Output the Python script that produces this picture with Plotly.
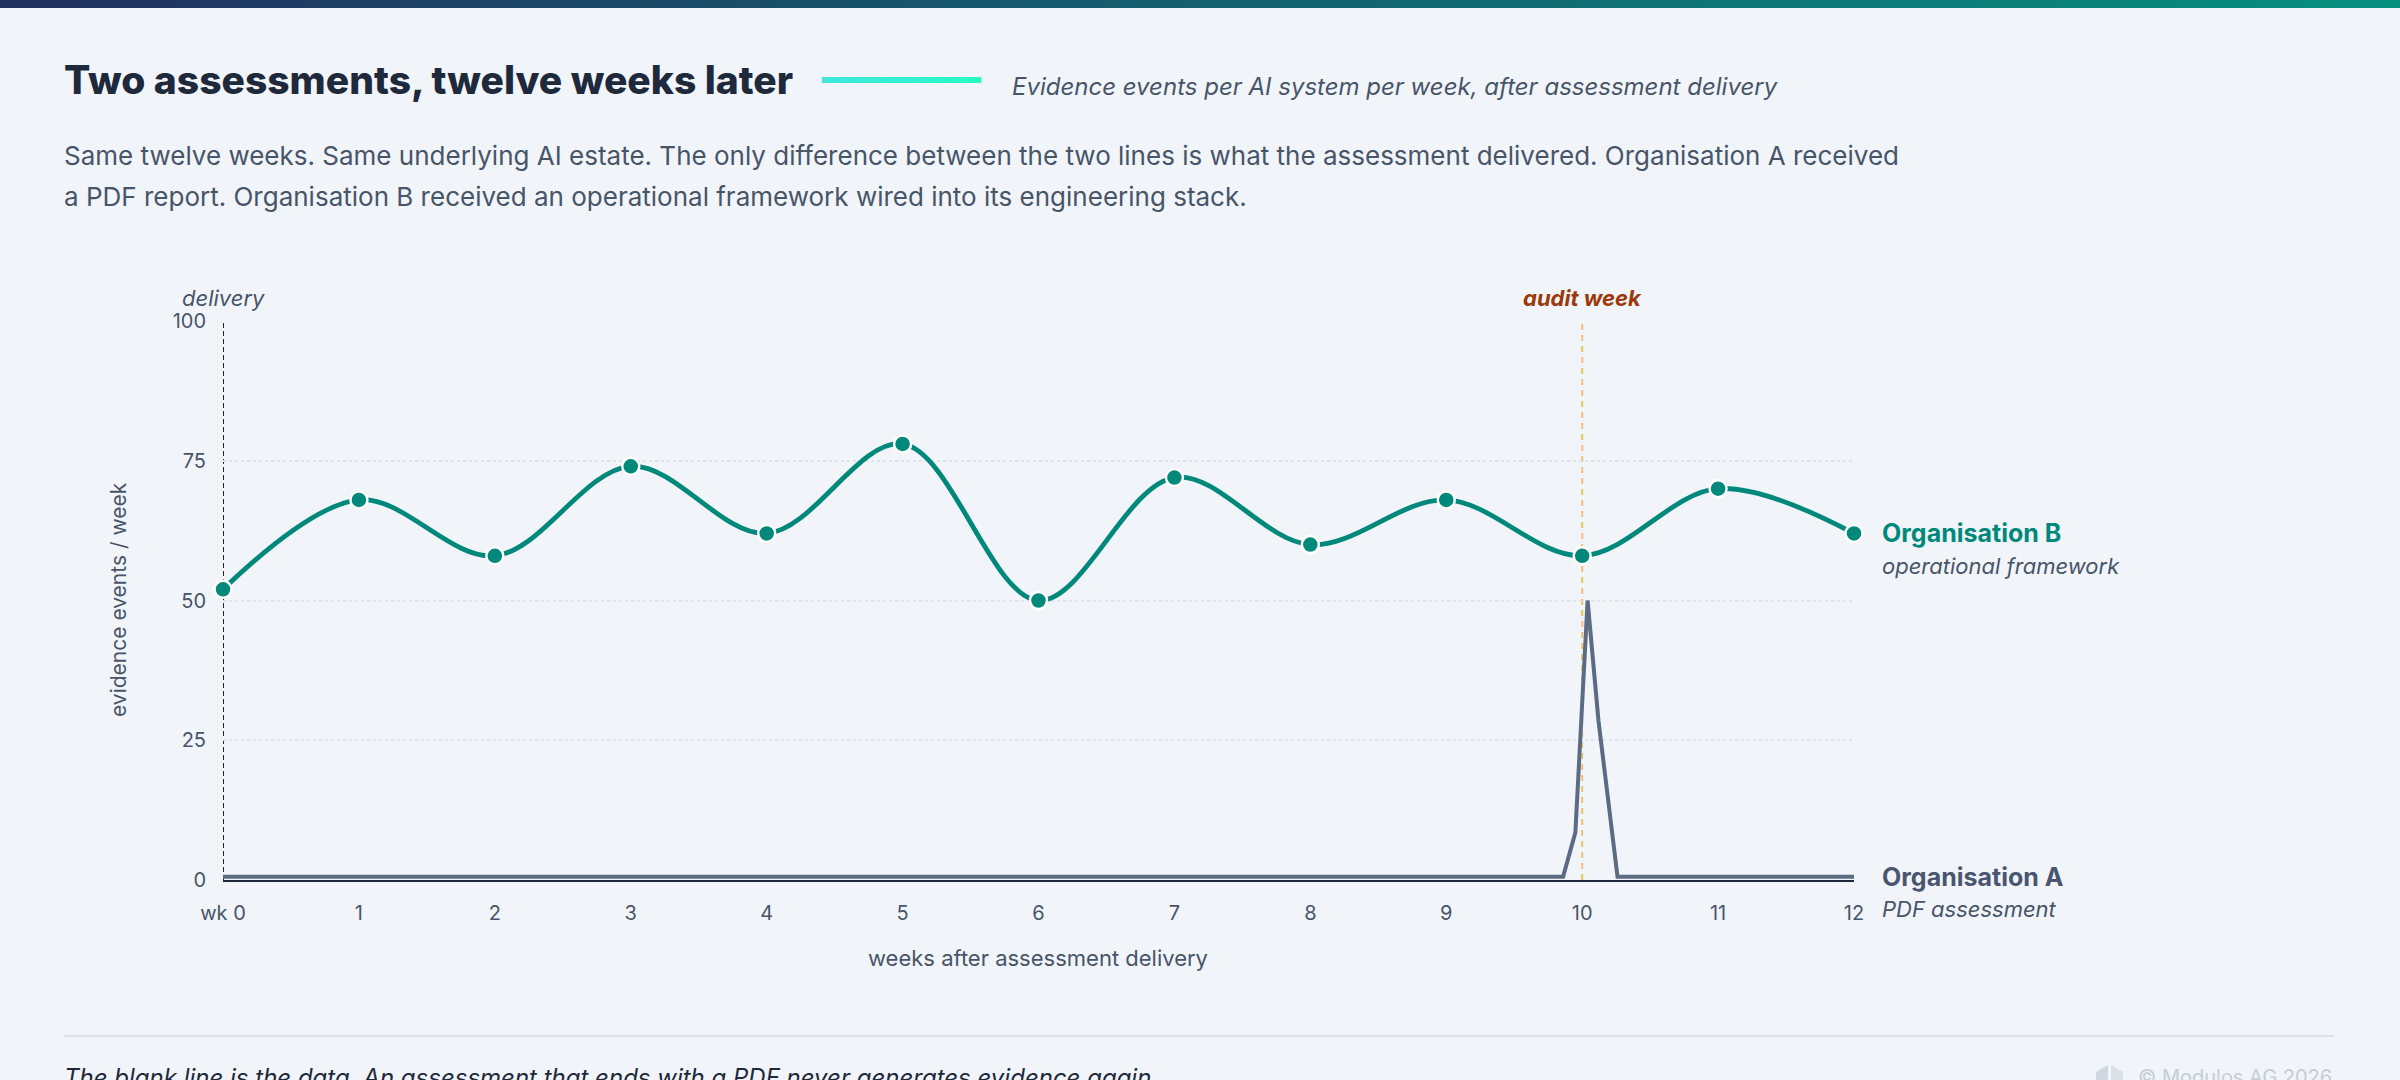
import plotly.graph_objects as go

# ---------------- data ----------------
weeks = list(range(13))
week_labels = ["wk 0", "1", "2", "3", "4", "5", "6", "7", "8", "9", "10", "11", "12"]
org_b_values = [52, 68, 58, 74, 62, 78, 50, 72, 60, 68, 58, 70, 62]
org_a_weeks = [0, 9.86, 9.95, 10.04, 10.12, 10.26, 12]
org_a_values = [0.6, 0.6, 8.5, 50, 28.5, 0.6, 0.6]
y_ticks = [0, 25, 50, 75, 100]
delivery_week = 0
audit_week = 10

# ---------------- layout geometry ----------------
W, H = 2400, 1080
ML, MR, MT, MB = 223, 546, 321, 200
PW, PH = W - ML - MR, H - MT - MB
FONT = "Inter"
BG = "#f1f4f9"
TEAL = "#00897b"
SLATE = "#5b6b84"
DARK = "#1e293b"
MUTED = "#475569"


def xp(px):
    return (px - ML) / PW


def yp(py):
    return (H - MB - py) / PH


def hex2rgb(h):
    h = h.lstrip("#")
    return tuple(int(h[i:i + 2], 16) for i in (0, 2, 4))


def lerp(c1, c2, t):
    a, b = hex2rgb(c1), hex2rgb(c2)
    return "rgb(%d,%d,%d)" % tuple(round(a[i] + (b[i] - a[i]) * t) for i in range(3))


fig = go.Figure()

fig.add_trace(go.Scatter(
    x=org_a_weeks, y=org_a_values, mode="lines",
    line=dict(color=SLATE, width=4, shape="linear"),
    cliponaxis=False, showlegend=False, name="Organisation A",
))
fig.add_trace(go.Scatter(
    x=weeks, y=org_b_values, mode="lines+markers",
    line=dict(color=TEAL, width=4.8, shape="spline", smoothing=1),
    marker=dict(size=17, color=TEAL, line=dict(color="white", width=2.5)),
    cliponaxis=False, showlegend=False, name="Organisation B",
))

shapes = []
# top gradient bar
N = 120
for i in range(N):
    x0 = W * i / N
    x1 = W * (i + 1) / N + 1
    shapes.append(dict(type="rect", xref="paper", yref="paper",
                       x0=xp(x0), x1=xp(x1), y0=yp(0), y1=yp(8),
                       fillcolor=lerp("#22305f", "#078f7e", i / (N - 1)),
                       line=dict(width=0), layer="above"))
# legend swatch next to title (gradient)
M = 30
sx0, sx1 = 822, 981
for i in range(M):
    a = sx0 + (sx1 - sx0) * i / M
    b = sx0 + (sx1 - sx0) * (i + 1) / M + 0.5
    shapes.append(dict(type="rect", xref="paper", yref="paper",
                       x0=xp(a), x1=xp(b), y0=yp(77), y1=yp(83),
                       fillcolor=lerp("#3de6da", "#25fbc6", i / (M - 1)),
                       line=dict(width=0)))
# delivery line
shapes.append(dict(type="line", xref="x", yref="y", x0=delivery_week, x1=delivery_week,
                   y0=0, y1=100, line=dict(color="#1e293b", width=2, dash="5px,3px"),
                   layer="below"))
# audit week line
shapes.append(dict(type="line", xref="x", yref="y", x0=audit_week, x1=audit_week,
                   y0=0, y1=100, line=dict(color="#f0c06c", width=2, dash="6px,5px"),
                   layer="below"))
# footer separator
shapes.append(dict(type="line", xref="paper", yref="paper",
                   x0=xp(64), x1=xp(2334), y0=yp(1036), y1=yp(1036),
                   line=dict(color="#dde3eb", width=2)))
# small logo glyph
shapes.append(dict(type="path", xref="paper", yref="paper",
                   path="M %f,%f L %f,%f L %f,%f L %f,%f Z" % (
                       xp(2096), yp(1080), xp(2096), yp(1072), xp(2108), yp(1065), xp(2108), yp(1080)),
                   fillcolor="#cfd7e1", line=dict(width=0)))
shapes.append(dict(type="path", xref="paper", yref="paper",
                   path="M %f,%f L %f,%f L %f,%f L %f,%f Z" % (
                       xp(2111), yp(1080), xp(2111), yp(1065), xp(2123), yp(1072), xp(2123), yp(1080)),
                   fillcolor="#dbe1e9", line=dict(width=0)))

ann = []


def text(px, py, s, size, color, xanchor="left", yanchor="middle", weight="normal",
         style="normal", angle=0):
    ann.append(dict(xref="paper", yref="paper", x=xp(px), y=yp(py), text=s,
                    showarrow=False, xanchor=xanchor, yanchor=yanchor, textangle=angle,
                    font=dict(family=FONT, size=size, color=color, weight=weight, style=style)))


text(62, 80, "Two assessments, twelve weeks later", 39, DARK, weight=800)
text(1010, 86, "Evidence events per AI system per week, after assessment delivery", 24, MUTED,
     style="italic")
text(62, 156, "Same twelve weeks. Same underlying AI estate. The only difference between the two lines "
              "is what the assessment delivered. Organisation A received", 26, MUTED)
text(62, 196, "a PDF report. Organisation B received an operational framework wired into its "
              "engineering stack.", 26, MUTED)

text(223, 298, "delivery", 22, MUTED, xanchor="center", style="italic")
ann.append(dict(xref="x", yref="paper", x=audit_week, y=yp(298), text="audit week",
                showarrow=False, xanchor="center", yanchor="middle",
                font=dict(family=FONT, size=22, color="#9a3a0c", weight="bold", style="italic")))

text(118, 600, "evidence events / week", 21, MUTED, xanchor="center", angle=-90)
text(1038, 958, "weeks after assessment delivery", 22, MUTED, xanchor="center")

text(1880, 533, "Organisation B", 25, TEAL, weight="bold")
text(1880, 566, "operational framework", 22, MUTED, style="italic")
text(1880, 877, "Organisation A", 25, "#4a5670", weight="bold")
text(1880, 909, "PDF assessment", 22, MUTED, style="italic")

text(62, 1077, "The blank line is the data. An assessment that ends with a PDF never generates "
               "evidence again.", 24, DARK, style="italic")
text(2334, 1077, "© Modulos AG 2026", 20, "#c5cdd8", xanchor="right")

fig.update_layout(
    width=W, height=H,
    margin=dict(l=ML, r=MR, t=MT, b=MB, pad=0),
    paper_bgcolor=BG, plot_bgcolor=BG,
    font=dict(family=FONT, color=MUTED),
    shapes=shapes, annotations=ann,
    showlegend=False,
    xaxis=dict(range=[0, 12], tickvals=weeks, ticktext=week_labels, showgrid=False,
               zeroline=False, showline=True, linecolor=DARK, linewidth=2,
               ticks="", ticklabelstandoff=14,
               tickfont=dict(family=FONT, size=20, color=MUTED), fixedrange=True),
    yaxis=dict(range=[0, 100], tickvals=y_ticks, showgrid=True, gridcolor="#dfe4eb",
               griddash="dot", gridwidth=1.5, zeroline=False, showline=False,
               ticks="", ticklabelstandoff=16,
               tickfont=dict(family=FONT, size=20, color=MUTED), fixedrange=True),
)

fig.write_html("out.html", config={"displayModeBar": False},
               post_script="document.body.style.margin='0';document.body.style.background='%s';" % BG)
